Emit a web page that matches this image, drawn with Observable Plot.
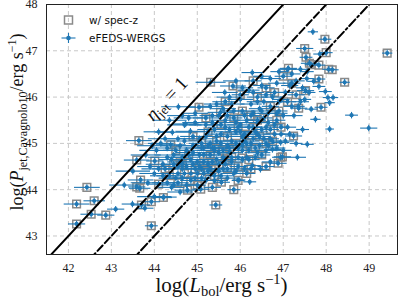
<!DOCTYPE html>
<html><head><meta charset="utf-8">
<script src="https://cdn.jsdelivr.net/npm/d3@7"></script>
<script src="https://cdn.jsdelivr.net/npm/@observablehq/plot@0.6"></script>
<style>
html,body{margin:0;padding:0;background:#fff;}
#chart{position:relative;width:399px;height:299px;}
</style></head><body><div id="chart"></div>
<script>
// [log Lbol, log Pjet, Lbol error] — sources with spectroscopic redshift (drawn with a square)
const specZ = [
[42.19,43.26,0.20],[42.19,43.69,0.30],[42.43,44.05,0.30],[42.53,43.47,0.25],[42.60,43.76,0.25],[42.87,43.45,0.20],
[43.59,44.64,0.30],[43.64,45.06,0.30],[44.01,44.62,0.20],[44.38,44.97,0.35],[43.68,44.21,0.30],[43.59,44.06,0.20],
[43.66,44.03,0.25],[44.10,44.12,0.30],[43.93,43.74,0.20],[43.70,43.67,0.20],[43.93,43.22,0.15],[44.21,43.83,0.20],
[44.77,43.99,0.30],[45.08,44.01,0.20],[45.43,43.67,0.15],[45.85,44.00,0.15],[45.56,44.16,0.20],
[45.04,45.78,0.30],[45.31,46.32,0.35],[45.83,46.24,0.30],[45.54,45.67,0.30],[45.20,45.55,0.30],
[47.12,46.62,0.20],[47.50,47.05,0.20],[47.53,46.86,0.15],[47.61,46.73,0.20],[47.65,46.70,0.15],[47.83,46.69,0.15],
[47.97,47.25,0.15],[48.00,46.96,0.15],[48.14,46.59,0.15],[48.06,46.60,0.15],[47.83,46.39,0.15],[48.43,46.32,0.12],
[47.88,45.78,0.15],[47.52,46.14,0.20],[49.42,46.95,0.12],[47.20,46.30,0.20],[47.30,46.05,0.20],[47.10,45.90,0.20],
[46.98,44.71,0.20],[46.88,44.57,0.20],[47.24,45.16,0.20],[47.36,45.76,0.20],[46.94,44.70,0.20],
[44.35,44.30,0.30],[44.55,44.15,0.25],[44.70,44.35,0.30],[44.85,44.20,0.25],[44.95,44.45,0.30],[45.10,44.25,0.20],
[45.25,44.40,0.30],[45.40,44.30,0.20],[45.15,44.60,0.25],[44.60,44.60,0.30],[44.80,44.75,0.35],[45.30,44.75,0.25],
[45.50,44.55,0.30],[45.60,44.85,0.20],[45.70,44.45,0.25],[45.80,44.70,0.20],[45.95,44.50,0.20],[46.05,44.85,0.20],
[46.20,44.65,0.25],[46.35,44.90,0.20],[46.50,44.75,0.20],[46.60,45.00,0.20],[45.45,45.05,0.30],[45.70,45.15,0.25],
[45.90,45.00,0.20],[46.10,45.20,0.30],[46.30,45.35,0.20],[46.45,45.15,0.25],[46.70,45.30,0.20],[46.85,45.50,0.20],
[45.25,45.25,0.35],[45.55,45.40,0.30],[45.85,45.55,0.20],[46.05,45.70,0.30],[46.25,45.60,0.25],[46.55,45.55,0.20],
[46.70,45.80,0.20],[46.90,45.70,0.20],[45.10,45.00,0.30],[44.90,45.15,0.30],[46.00,46.05,0.20],[46.40,46.00,0.25],
[46.60,46.20,0.20],[46.80,46.10,0.20],[47.00,46.45,0.20],[46.30,46.35,0.20],[45.65,45.90,0.30],[46.15,44.35,0.20],
[45.95,44.20,0.15],[46.60,44.50,0.20],[44.25,44.45,0.30],[44.50,44.85,0.30],[45.00,44.10,0.20],[45.35,44.05,0.20],
[44.65,44.55,0.30],[45.05,44.50,0.30],[45.35,44.60,0.30],[45.75,44.90,0.25],[46.15,45.00,0.25],[46.40,45.50,0.20],
[45.95,45.35,0.25],[45.40,44.90,0.30],[44.45,44.55,0.30],[46.75,45.05,0.20],[46.95,45.35,0.20],[45.65,44.65,0.25],
[46.25,44.45,0.20]
];
// [log Lbol, log Pjet, Lbol error] — other eFEDS-WERGS sources
const photoZ = [
[43.10,43.58,0.20],[43.49,43.69,0.25],[43.78,43.60,0.20],[44.00,43.85,0.40],[44.22,43.84,0.30],[44.60,43.95,0.30],
[43.30,44.10,0.35],[43.85,44.15,0.40],[43.50,44.40,0.40],[43.90,44.50,0.30],[43.80,44.75,0.35],[44.05,44.85,0.40],
[44.30,44.70,0.45],[44.15,45.00,0.30],[44.42,45.24,0.40],[44.84,45.26,0.35],[44.56,45.79,0.40],[44.65,45.60,0.35],
[44.95,45.45,0.30],[44.20,44.30,0.30],[44.40,44.05,0.30],[44.65,44.25,0.40],[44.90,44.55,0.40],[44.75,44.50,0.35],
[45.05,44.75,0.35],[44.55,44.50,0.40],[44.40,44.65,0.30],[44.45,44.10,0.40],[44.55,44.35,0.45],[44.60,44.95,0.45],
[44.70,45.05,0.40],[44.75,44.85,0.35],[44.80,45.55,0.35],[44.85,44.35,0.35],[44.90,44.95,0.40],[44.95,45.65,0.30],
[44.30,44.90,0.40],[44.70,45.40,0.40],[44.00,44.35,0.35],[44.20,44.55,0.40],[43.95,44.95,0.35],[44.10,45.25,0.35],
[44.35,45.50,0.40],[44.73,45.42,0.30],
[45.05,45.10,0.40],[45.15,44.90,0.45],[45.20,45.40,0.40],[45.30,45.00,0.35],[45.40,44.85,0.40],[45.35,45.60,0.30],
[45.45,44.65,0.35],[45.10,44.45,0.40],[45.25,44.55,0.35],[45.40,45.30,0.40],[45.45,45.85,0.30],[45.30,45.80,0.30],
[45.20,44.20,0.30],[45.50,44.40,0.30],[45.00,44.35,0.35],
[45.55,45.20,0.40],[45.60,44.70,0.40],[45.65,45.50,0.35],[45.70,44.95,0.35],[45.75,45.30,0.30],[45.80,44.60,0.30],
[45.85,45.70,0.30],[45.90,45.25,0.35],[45.95,44.90,0.30],[45.60,45.75,0.30],[45.75,46.00,0.30],[45.55,44.30,0.30],
[45.70,44.25,0.25],[45.90,44.40,0.30],[45.80,45.05,0.35],[45.65,45.35,0.40],[45.64,46.10,0.30],
[46.00,45.40,0.30],[46.05,44.65,0.30],[46.10,45.05,0.35],[46.15,45.50,0.30],[46.20,44.85,0.30],[46.25,45.85,0.25],
[46.30,45.10,0.30],[46.35,44.70,0.25],[46.40,45.45,0.30],[46.45,45.75,0.25],[46.00,45.95,0.30],[46.10,44.45,0.25],
[46.20,46.15,0.25],[46.35,45.25,0.30],[46.45,44.95,0.30],[46.05,45.15,0.35],[45.97,44.21,0.15],[46.22,44.17,0.15],
[46.28,44.52,0.20],[46.47,44.44,0.20],[46.28,46.53,0.25],[45.90,46.35,0.30],
[46.50,45.30,0.25],[46.55,45.90,0.25],[46.60,44.85,0.25],[46.65,45.65,0.25],[46.70,45.10,0.20],[46.75,46.00,0.25],
[46.80,45.40,0.20],[46.85,44.90,0.20],[46.90,45.90,0.25],[46.95,45.20,0.20],[46.60,46.05,0.20],[46.50,46.25,0.20],
[46.70,44.60,0.20],[46.85,46.30,0.20],[46.50,46.45,0.20],[46.70,46.40,0.25],[46.90,46.55,0.20],[46.75,44.87,0.20],
[47.00,45.60,0.20],[47.05,46.10,0.20],[47.10,45.35,0.20],[47.15,46.25,0.20],[47.20,45.80,0.20],[47.30,46.35,0.20],
[47.35,45.80,0.15],[47.45,46.20,0.15],[47.50,45.95,0.15],[47.55,46.40,0.15],[47.60,46.10,0.15],[47.20,46.50,0.20],
[47.40,46.60,0.20],[47.56,46.55,0.15],[47.40,45.90,0.20],[47.25,45.60,0.20],[47.45,45.30,0.15],[47.15,45.20,0.20],
[47.30,45.00,0.15],[47.05,45.05,0.20],[47.00,44.85,0.20],[47.33,44.70,0.20],[47.56,44.98,0.15],[46.94,45.02,0.20],
[47.69,47.41,0.12],[47.85,46.93,0.15],[47.71,46.34,0.15],[47.83,46.23,0.15],[47.98,46.12,0.15],[48.16,45.99,0.12],
[48.04,45.99,0.12],[48.08,45.88,0.12],[47.65,45.74,0.15],[47.75,45.52,0.12],[48.59,45.61,0.15],[48.08,45.31,0.10],
[48.99,45.33,0.20],
[44.45,44.75,0.45],[44.65,44.70,0.40],[44.85,44.65,0.40],[45.00,44.60,0.40],[45.15,44.75,0.40],[45.30,44.45,0.35],
[45.35,44.90,0.40],[45.50,44.80,0.40],[45.55,45.00,0.35],[45.65,44.55,0.35],[45.75,44.80,0.30],[45.85,44.35,0.30],
[45.95,44.70,0.30],[46.05,44.95,0.30],[46.15,44.70,0.30],[46.25,45.00,0.30],[46.40,44.80,0.30],[46.55,45.10,0.25],
[46.65,44.95,0.25],[46.80,45.20,0.25],[45.20,45.15,0.40],[45.35,45.45,0.35],[45.50,45.60,0.35],[45.70,45.60,0.30],
[45.90,45.45,0.30],[46.10,45.60,0.30],[46.30,45.65,0.30],[46.50,45.70,0.25],[46.65,45.45,0.25],[46.85,45.65,0.25],
[46.00,45.25,0.35],[46.20,45.35,0.30],[46.40,45.20,0.30],[46.60,45.35,0.25],[45.80,45.85,0.30],[46.05,46.20,0.25],
[46.30,46.10,0.25],[46.40,45.90,0.25],[46.95,45.95,0.20],[47.10,46.60,0.20],[44.10,44.45,0.40],[44.30,44.15,0.35],
[44.50,44.25,0.40],[44.75,44.10,0.35],[44.95,44.25,0.35],[45.15,44.35,0.30],[45.40,44.20,0.30],[45.60,44.45,0.30],
[44.90,44.80,0.40],[45.10,44.90,0.40],[44.55,45.10,0.40],[44.25,45.10,0.40],[44.65,44.45,0.40],[45.25,44.95,0.40],
[45.45,45.15,0.35]
];
const pjetErr = 0.07;                 // typical vertical error
const relationOffsets = [1, 0, -1];   // log Pjet = log Lbol + offset
const relationSpan = [41, 50];
const xTicks = [42, 43, 44, 45, 46, 47, 48, 49];
const yTicks = [43, 44, 45, 46, 47, 48];
const legendLabels = ["w/ spec-z", "eFEDS-WERGS"];

const blue = "#1f77b4";
const rows = [
  ...specZ.map(d => ({lbol: d[0], pjet: d[1], err: d[2], specz: true})),
  ...photoZ.map(d => ({lbol: d[0], pjet: d[1], err: d[2], specz: false}))
];
const rel = relationOffsets.map(k => relationSpan.map(x => ({x, y: x + k})));
const dashes = [null, "7.4,3.2", "9,3,2,3"];

const plot = Plot.plot({
  width: 399, height: 299,
  marginLeft: 46, marginRight: 2, marginTop: 4, marginBottom: 45,
  x: {domain: [41.49, 49.66], label: null},
  y: {domain: [42.6, 48], label: null},
  style: {fontFamily: "Liberation Serif", fontSize: "12px", color: "#222", background: "#fff"},
  marks: [
    Plot.gridX(xTicks, {stroke: "#c8c8c8", strokeOpacity: 1, strokeDasharray: "4,3"}),
    Plot.gridY(yTicks, {stroke: "#c8c8c8", strokeOpacity: 1, strokeDasharray: "4,3"}),
    Plot.axisX(xTicks, {tickSize: 0, tickPadding: 9, label: null, tickFormat: d => d}),
    Plot.axisY(yTicks, {tickSize: 0, tickPadding: 9, label: null, tickFormat: d => d}),
    Plot.dot(rows.filter(d => d.specz), {x: "lbol", y: "pjet", symbol: "square", r: 4.3, stroke: "#8a8a8a", strokeWidth: 1.5, fill: "none"}),
    Plot.link(rows, {x1: d => d.lbol - d.err, x2: d => d.lbol + d.err, y1: "pjet", y2: "pjet", stroke: blue, strokeWidth: 1.1}),
    Plot.link(rows, {x1: "lbol", x2: "lbol", y1: d => d.pjet - pjetErr, y2: d => d.pjet + pjetErr, stroke: blue, strokeWidth: 1.1}),
    Plot.dot(rows, {x: "lbol", y: "pjet", r: 2.1, fill: blue}),
    ...rel.map((seg, i) => Plot.line(seg, {x: "x", y: "y", stroke: "#000", strokeWidth: 2, strokeDasharray: dashes[i], clip: true})),
    Plot.frame({stroke: "#222", strokeWidth: 1})
  ]
});
document.getElementById("chart").appendChild(plot);

const svg = d3.select(plot);
// x label
const xl = svg.append("text").attr("x", 221.5).attr("y", 292).attr("text-anchor", "middle")
  .style("font-family", "Liberation Serif").style("font-size", "21px").attr("fill", "#111");
xl.append("tspan").text("log(");
xl.append("tspan").style("font-style", "italic").text("L");
xl.append("tspan").attr("dy", 4).style("font-size", "14.5px").text("bol");
xl.append("tspan").attr("dy", -4).text("/erg s");
xl.append("tspan").attr("dy", -8).style("font-size", "14.5px").text("−1");
xl.append("tspan").attr("dy", 8).text(")");
// y label
const yl = svg.append("text").attr("transform", "translate(23,122) rotate(-90)").attr("text-anchor", "middle")
  .style("font-family", "Liberation Serif").style("font-size", "18px").attr("fill", "#111");
yl.append("tspan").text("log(");
yl.append("tspan").style("font-style", "italic").text("P");
yl.append("tspan").attr("dy", 4).style("font-size", "12px").text("jet,Cavagnolo10");
yl.append("tspan").attr("dy", -4).text("/erg s");
yl.append("tspan").attr("dy", -7).style("font-size", "12px").text("−1");
yl.append("tspan").attr("dy", 7).text(")");
// eta label
const el = svg.append("text").attr("transform", "translate(171,103) rotate(-47)").attr("text-anchor", "middle")
  .style("font-family", "Liberation Serif").style("font-size", "19px").attr("fill", "#111");
el.append("tspan").style("font-style", "italic").text("η");
el.append("tspan").attr("dy", 4).style("font-size", "13px").text("jet");
el.append("tspan").attr("dy", -4).text(" = 1");
// legend
const lg = svg.append("g");
lg.append("rect").attr("x", 64.5).attr("y", 16).attr("width", 8).attr("height", 8)
  .attr("fill", "none").attr("stroke", "#8a8a8a").attr("stroke-width", 1.5);
lg.append("line").attr("x1", 61.5).attr("x2", 75.5).attr("y1", 38).attr("y2", 38).attr("stroke", blue).attr("stroke-width", 1.1);
lg.append("line").attr("x1", 68.5).attr("x2", 68.5).attr("y1", 33).attr("y2", 43).attr("stroke", blue).attr("stroke-width", 1.1);
lg.append("circle").attr("cx", 68.5).attr("cy", 38).attr("r", 2.3).attr("fill", blue);
legendLabels.forEach((t, i) => {
  lg.append("text").attr("x", 89).attr("y", 24 + i * 18).attr("text-anchor", "start").text(t)
    .style("font-family", "DejaVu Sans").style("font-size", "10.5px").attr("fill", "#111");
});
</script></body></html>
